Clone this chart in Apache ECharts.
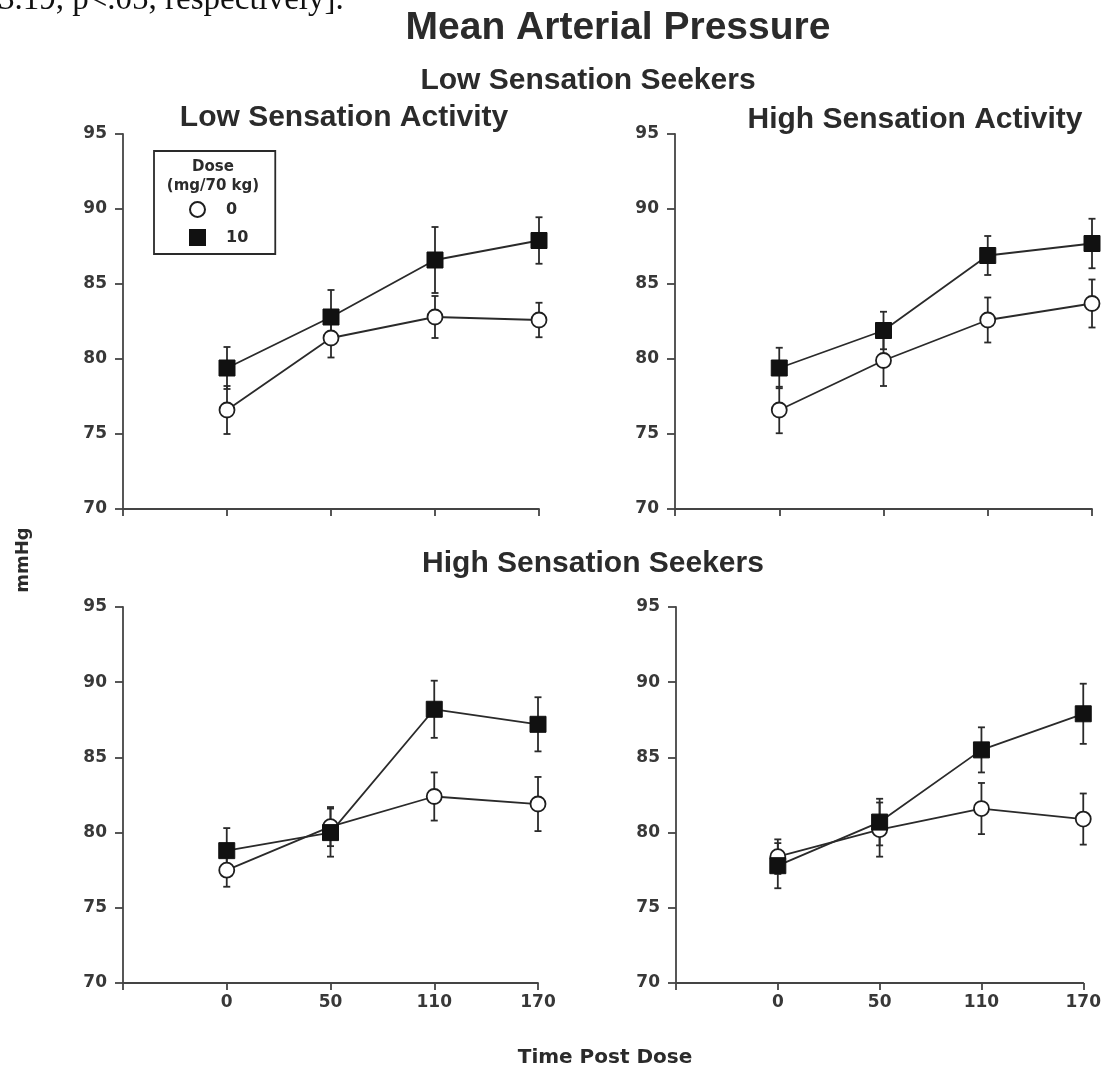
<!DOCTYPE html>
<html><head><meta charset="utf-8">
<script src="https://cdn.jsdelivr.net/npm/echarts@6/dist/echarts.min.js"></script>
<style>html,body{margin:0;padding:0;background:#fff}#c{width:1104px;height:1069px}</style>
</head><body><div id="c"></div><script>
// ---- data ----
const timeLabels = ['0', '50', '110', '170'];
const doseLabels = ['0', '10'];
const yTicks = [70, 75, 80, 85, 90, 95];

// Low sensation seekers / low sensation activity
const lslaDose0 = [76.6, 81.4, 82.8, 82.6];
const lslaDose0Err = [1.6, 1.3, 1.4, 1.15];
const lslaDose10 = [79.4, 82.8, 86.6, 87.9];
const lslaDose10Err = [1.4, 1.8, 2.2, 1.55];
// Low sensation seekers / high sensation activity
const lshaDose0 = [76.6, 79.9, 82.6, 83.7];
const lshaDose0Err = [1.55, 1.7, 1.5, 1.6];
const lshaDose10 = [79.4, 81.9, 86.9, 87.7];
const lshaDose10Err = [1.35, 1.25, 1.3, 1.65];
// High sensation seekers / low sensation activity
const hslaDose0 = [77.5, 80.4, 82.4, 81.9];
const hslaDose0Err = [1.1, 1.3, 1.6, 1.8];
const hslaDose10 = [78.8, 80.0, 88.2, 87.2];
const hslaDose10Err = [1.5, 1.6, 1.9, 1.8];
// High sensation seekers / high sensation activity
const hshaDose0 = [78.4, 80.2, 81.6, 80.9];
const hshaDose0Err = [1.15, 1.8, 1.7, 1.7];
const hshaDose10 = [77.8, 80.7, 85.5, 87.9];
const hshaDose10Err = [1.5, 1.55, 1.5, 2.0];

// ---- build ----
const panels = [
  {d0: lslaDose0, e0: lslaDose0Err, d10: lslaDose10, e10: lslaDose10Err, grid: {left: 123, top: 134, width: 416, height: 375}, labels: false},
  {d0: lshaDose0, e0: lshaDose0Err, d10: lshaDose10, e10: lshaDose10Err, grid: {left: 675, top: 134, width: 417, height: 375}, labels: false},
  {d0: hslaDose0, e0: hslaDose0Err, d10: hslaDose10, e10: hslaDose10Err, grid: {left: 123, top: 607, width: 415, height: 376}, labels: true},
  {d0: hshaDose0, e0: hshaDose0Err, d10: hshaDose10, e10: hshaDose10Err, grid: {left: 676, top: 607, width: 416, height: 376}, labels: true}
];

const INK = '#2b2b2b';
const AXIS = '#444';
const SMALL = 'DejaVu Sans';

function errRender(params, api) {
  const x = api.value(0), v = api.value(1), e = api.value(2);
  const top = api.coord([x, v + e]);
  const bot = api.coord([x, v - e]);
  const w = 3.5;
  const st = {stroke: '#2a2a2a', lineWidth: 1.8};
  return {type: 'group', children: [
    {type: 'line', shape: {x1: top[0], y1: top[1], x2: bot[0], y2: bot[1]}, style: st},
    {type: 'line', shape: {x1: top[0] - w, y1: top[1], x2: top[0] + w, y2: top[1]}, style: st},
    {type: 'line', shape: {x1: bot[0] - w, y1: bot[1], x2: bot[0] + w, y2: bot[1]}, style: st}
  ]};
}

const grids = [], xAxes = [], yAxes = [], series = [];
panels.forEach((p, i) => {
  grids.push(Object.assign({containLabel: false}, p.grid));
  xAxes.push({
    type: 'value', gridIndex: i, min: 0, max: 4, interval: 1,
    axisLine: {lineStyle: {color: AXIS, width: 1.8}},
    axisTick: {show: true, length: 7, lineStyle: {color: AXIS, width: 1.8}},
    splitLine: {show: false},
    axisLabel: {show: p.labels, margin: 11, color: '#383838', fontFamily: SMALL, fontWeight: 'bold', fontSize: 17,
      formatter: v => (v >= 1 ? timeLabels[v - 1] : '')}
  });
  yAxes.push({
    type: 'value', gridIndex: i, min: yTicks[0], max: yTicks[yTicks.length - 1], interval: 5,
    axisLine: {show: true, lineStyle: {color: AXIS, width: 1.8}},
    axisTick: {show: true, length: 8, lineStyle: {color: AXIS, width: 1.8}},
    splitLine: {show: false},
    axisLabel: {margin: 16, color: '#383838', fontFamily: SMALL, fontWeight: 'bold', fontSize: 17}
  });
  const mk = (arr, err) => arr.map((v, k) => [k + 1, v, err[k]]);
  series.push({type: 'custom', name: 'err0-' + i, xAxisIndex: i, yAxisIndex: i, renderItem: errRender,
    data: mk(p.d0, p.e0), encode: {x: 0, y: 1}, z: 2, silent: true});
  series.push({type: 'custom', name: 'err10-' + i, xAxisIndex: i, yAxisIndex: i, renderItem: errRender,
    data: mk(p.d10, p.e10), encode: {x: 0, y: 1}, z: 2, silent: true});
  series.push({type: 'line', name: doseLabels[0], xAxisIndex: i, yAxisIndex: i,
    data: p.d0.map((v, k) => [k + 1, v]), symbol: 'circle', symbolSize: 15,
    lineStyle: {color: '#2a2a2a', width: 1.8},
    itemStyle: {color: '#fff', borderColor: '#1e1e1e', borderWidth: 1.8}, z: 3, animation: false});
  series.push({type: 'line', name: doseLabels[1], xAxisIndex: i, yAxisIndex: i,
    data: p.d10.map((v, k) => [k + 1, v]), symbol: 'rect', symbolSize: 16,
    lineStyle: {color: '#2a2a2a', width: 1.8},
    itemStyle: {color: '#111', borderColor: '#111', borderWidth: 1}, z: 4, animation: false});
});

function txt(text, x, y, font, extra) {
  return Object.assign({type: 'text', x: x, y: y, z: 10,
    style: {text: text, font: font, fill: INK, align: 'center', verticalAlign: 'middle',
      textAlign: 'center', textVerticalAlign: 'middle'}}, extra || {});
}

const option = {
  animation: false,
  backgroundColor: '#fff',
  grid: grids, xAxis: xAxes, yAxis: yAxes, series: series,
  legend: {
    left: 154, top: 151, orient: 'vertical',
    data: [{name: doseLabels[0], icon: 'circle'}, {name: doseLabels[1], icon: 'rect'}],
    itemWidth: 15, itemHeight: 15, itemGap: 11,
    padding: [50, 27, 8, 35],
    borderColor: '#2a2a2a', borderWidth: 1.8, borderRadius: 0,
    selectedMode: false,
    textStyle: {fontFamily: SMALL, fontWeight: 'bold', fontSize: 16, color: INK, padding: [0, 0, 0, 16]}
  },
  graphic: [
    {type: 'text', x: -2, y: 0, z: 10, style: {text: '3.19, p<.05, respectively].', font: '33px "Liberation Serif"', fill: '#111',
      align: 'left', verticalAlign: 'middle', textAlign: 'left', textVerticalAlign: 'middle'}},
    txt('Mean Arterial Pressure', 618, 28, 'bold 39px "Liberation Sans"'),
    txt('Low Sensation Seekers', 588, 81, 'bold 30px "Liberation Sans"'),
    txt('Low Sensation Activity', 344, 118, 'bold 30px "Liberation Sans"'),
    txt('High Sensation Activity', 915, 120, 'bold 30px "Liberation Sans"'),
    txt('High Sensation Seekers', 593, 564, 'bold 30px "Liberation Sans"'),
    txt('Time Post Dose', 605, 1058, 'bold 20px "DejaVu Sans"'),
    txt('Dose', 213, 167, 'bold 15px "DejaVu Sans"'),
    txt('(mg/70 kg)', 213, 186, 'bold 15px "DejaVu Sans"'),
    Object.assign(txt('mmHg', 0, 0, 'bold 18px "DejaVu Sans"'), {x: 23, y: 560, rotation: Math.PI / 2})
  ]
};

const chart = echarts.init(document.getElementById('c'), null, {renderer: 'canvas'});
chart.setOption(option);
</script></body></html>
